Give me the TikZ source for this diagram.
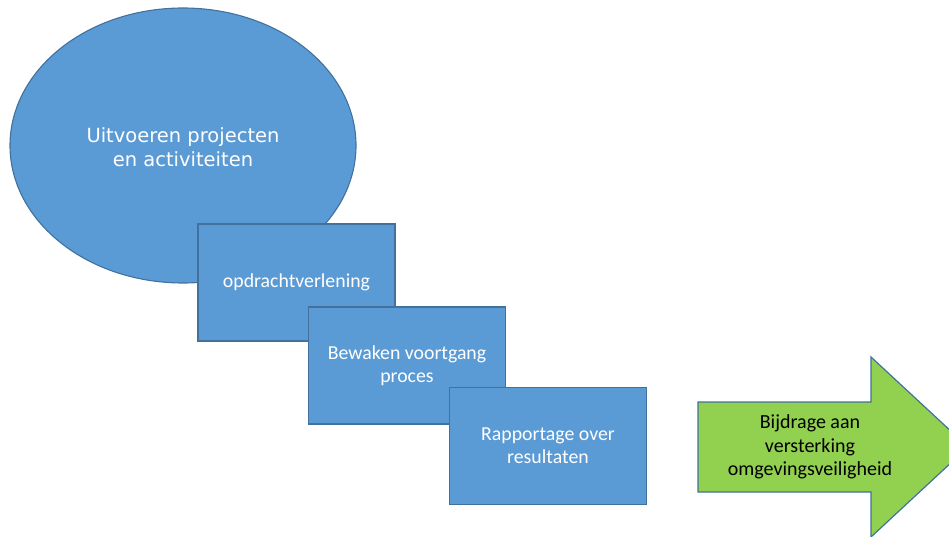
\documentclass[tikz,border=0pt]{standalone}
\usepackage{fontspec}
\setmainfont{Carlito}
\newfontfamily\verdfont{DejaVu Sans}
\usetikzlibrary{shapes.geometric}
\definecolor{boxblue}{HTML}{5B9BD5}
\definecolor{edgeblue}{HTML}{41719C}
\definecolor{arrowgreen}{HTML}{92D050}
\tikzset{
  bluebox/.style={draw=edgeblue, fill=boxblue, line width=1.2pt, rectangle, inner sep=0pt,
    minimum width=197pt, minimum height=117pt, text=white, align=center,
    font=\fontsize{19.8}{23}\selectfont},
  blueoval/.style={draw=edgeblue, fill=boxblue, line width=1.1pt, ellipse, inner sep=0pt,
    minimum width=346pt, minimum height=275pt},
  ovaltext/.style={text=white, align=center, font=\verdfont\fontsize{19.5}{24}\selectfont},
  arrowtext/.style={text=black, align=center, font=\fontsize{20}{23.5}\selectfont}
}
\begin{document}
\begin{tikzpicture}[x=1pt,y=-1pt]
\useasboundingbox (0,0) rectangle (949,537);
\clip (0,0) rectangle (949,537);
\node[blueoval] (oval) at (183,145.5) {};
\node[ovaltext] (ovaltxt) at (183,147) {Uitvoeren projecten\\en activiteiten};
\node[bluebox] (b1) at (296.5,282.5) {opdrachtverlening};
\node[bluebox] (b2) at (407,365.5) {Bewaken voortgang\\proces};
\node[bluebox] (b3) at (548,446) {Rapportage over\\resultaten};
\draw[draw=edgeblue, fill=arrowgreen, line width=1.2pt]
  (698,402) -- (871,402) -- (871,357) -- (968,447) -- (871,537) -- (871,492) -- (698,492) -- cycle;
\node[arrowtext] (arr) at (810,447) {Bijdrage aan\\versterking\\omgevingsveiligheid};
\end{tikzpicture}
\end{document}
